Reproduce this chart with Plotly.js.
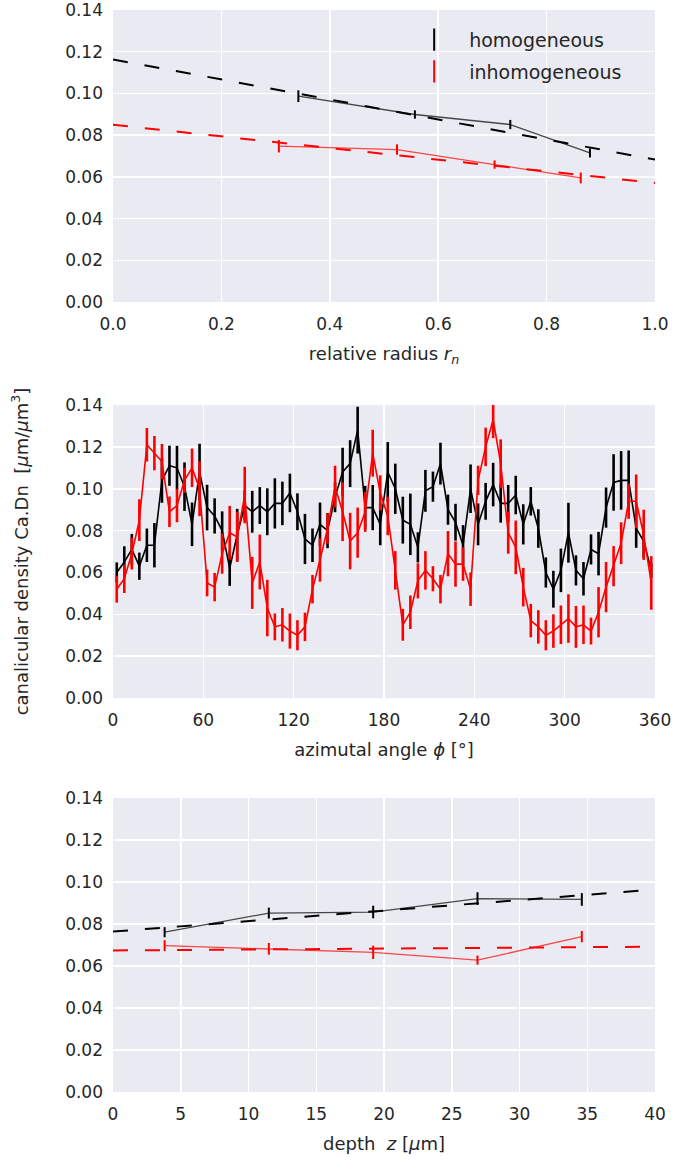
<!DOCTYPE html>
<html>
<head>
<meta charset="utf-8">
<script src="https://cdn.plot.ly/plotly-3.0.1.min.js"></script>
<style>html,body{margin:0;padding:0;background:#fff;}</style>
</head>
<body>
<div id="chart" style="width:673px;height:1164px;"></div>
<script>
// ---------- Panel 1: relative radius ----------
const rnHomX = [0.342, 0.557, 0.733, 0.880];
const rnHomY = [0.0987, 0.0899, 0.0851, 0.0715];
const rnHomErr = [0.0028, 0.0020, 0.0022, 0.0022];
const rnInhX = [0.306, 0.524, 0.704, 0.863];
const rnInhY = [0.0747, 0.0731, 0.0659, 0.0595];
const rnInhErr = [0.0030, 0.0025, 0.0020, 0.0026];
const rnFitX = [0.0, 1.0];
const rnFitHom = [0.1163, 0.0683];
const rnFitInh = [0.0850, 0.0571];

// ---------- Panel 2: azimutal angle ----------
const phi = [2.5, 7.5, 12.5, 17.5, 22.5, 27.5, 32.5, 37.5, 42.5, 47.5, 52.5, 57.5,
  62.5, 67.5, 72.5, 77.5, 82.5, 87.5, 92.5, 97.5, 102.5, 107.5, 112.5, 117.5,
  122.5, 127.5, 132.5, 137.5, 142.5, 147.5, 152.5, 157.5, 162.5, 167.5, 172.5, 177.5,
  182.5, 187.5, 192.5, 197.5, 202.5, 207.5, 212.5, 217.5, 222.5, 227.5, 232.5, 237.5,
  242.5, 247.5, 252.5, 257.5, 262.5, 267.5, 272.5, 277.5, 282.5, 287.5, 292.5, 297.5,
  302.5, 307.5, 312.5, 317.5, 322.5, 327.5, 332.5, 337.5, 342.5, 347.5, 352.5, 357.5];
const phiHom = [0.060, 0.065, 0.071, 0.063, 0.073, 0.073, 0.104, 0.111, 0.110, 0.101, 0.083, 0.108,
  0.091, 0.087, 0.080, 0.062, 0.078, 0.092, 0.089, 0.092, 0.089, 0.093, 0.093, 0.098,
  0.089, 0.076, 0.073, 0.083, 0.080, 0.096, 0.108, 0.112, 0.128, 0.091, 0.091, 0.083,
  0.108, 0.100, 0.085, 0.083, 0.072, 0.099, 0.101, 0.112, 0.090, 0.084, 0.073, 0.100,
  0.083, 0.094, 0.102, 0.093, 0.093, 0.097, 0.083, 0.094, 0.081, 0.060, 0.052, 0.061,
  0.079, 0.061, 0.057, 0.071, 0.069, 0.091, 0.103, 0.104, 0.104, 0.081, 0.075, 0.061];
const phiHomErr = [0.0048, 0.0075, 0.0074, 0.0065, 0.0080, 0.0106, 0.0107, 0.0096, 0.0105, 0.0116, 0.0104, 0.0135,
  0.0109, 0.0084, 0.0092, 0.0084, 0.0124, 0.0072, 0.0100, 0.0088, 0.0112, 0.0120, 0.0104, 0.0092,
  0.0088, 0.0120, 0.0080, 0.0104, 0.0084, 0.0072, 0.0116, 0.0112, 0.0112, 0.0104, 0.0108, 0.0100,
  0.0143, 0.0120, 0.0112, 0.0147, 0.0072, 0.0100, 0.0072, 0.0100, 0.0072, 0.0088, 0.0096, 0.0116,
  0.0100, 0.0088, 0.0104, 0.0092, 0.0088, 0.0092, 0.0096, 0.0068, 0.0092, 0.0072, 0.0088, 0.0104,
  0.0143, 0.0072, 0.0080, 0.0072, 0.0104, 0.0096, 0.0135, 0.0140, 0.0143, 0.0092, 0.0080, 0.0035];
const phiInh = [0.052, 0.057, 0.069, 0.085, 0.121, 0.117, 0.113, 0.089, 0.092, 0.104, 0.110, 0.100,
  0.055, 0.053, 0.069, 0.079, 0.077, 0.097, 0.055, 0.065, 0.043, 0.034, 0.035, 0.032,
  0.030, 0.034, 0.052, 0.066, 0.081, 0.101, 0.089, 0.075, 0.079, 0.089, 0.117, 0.098,
  0.087, 0.061, 0.035, 0.041, 0.056, 0.061, 0.057, 0.052, 0.069, 0.064, 0.064, 0.052,
  0.104, 0.120, 0.133, 0.112, 0.079, 0.072, 0.053, 0.037, 0.034, 0.030, 0.032, 0.035,
  0.038, 0.034, 0.035, 0.032, 0.041, 0.053, 0.063, 0.074, 0.094, 0.094, 0.078, 0.055];
const phiInhErr = [0.0064, 0.0068, 0.0076, 0.0100, 0.0080, 0.0082, 0.0084, 0.0073, 0.0080, 0.0060, 0.0092, 0.0131,
  0.0064, 0.0068, 0.0096, 0.0128, 0.0120, 0.0135, 0.0124, 0.0131, 0.0135, 0.0064, 0.0080, 0.0084,
  0.0072, 0.0068, 0.0068, 0.0104, 0.0072, 0.0100, 0.0140, 0.0135, 0.0120, 0.0096, 0.0112, 0.0084,
  0.0092, 0.0092, 0.0076, 0.0080, 0.0084, 0.0092, 0.0060, 0.0068, 0.0108, 0.0108, 0.0080, 0.0080,
  0.0070, 0.0092, 0.0088, 0.0116, 0.0100, 0.0128, 0.0092, 0.0080, 0.0080, 0.0072, 0.0080, 0.0092,
  0.0116, 0.0100, 0.0092, 0.0064, 0.0120, 0.0120, 0.0096, 0.0100, 0.0084, 0.0128, 0.0120, 0.0128];

// ---------- Panel 3: depth ----------
const zX = [3.81, 11.5, 19.2, 26.9, 34.6];
const zHom = [0.0761, 0.0852, 0.0857, 0.0921, 0.0917];
const zHomErr = [0.0024, 0.0026, 0.0030, 0.0030, 0.0030];
const zInh = [0.0697, 0.0682, 0.0665, 0.0628, 0.0740];
const zInhErr = [0.0026, 0.0028, 0.0032, 0.0022, 0.0027];
const zFitX = [0, 40];
const zFitHom = [0.0764, 0.0964];
const zFitInh = [0.0674, 0.0692];

const yTicks = [0, 0.02, 0.04, 0.06, 0.08, 0.10, 0.12, 0.14];
const rnTicks = [0, 0.2, 0.4, 0.6, 0.8, 1.0];
const phiTicks = [0, 60, 120, 180, 240, 300, 360];
const zTicks = [0, 5, 10, 15, 20, 25, 30, 35, 40];
const legendNames = ['homogeneous', 'inhomogeneous'];

const BLK = '#000000', RED = '#ff0000';
const DASH = '15px,17px';

function dataTrace(x, y, err, color, lineColor, xa, ya, lw, et) {
  return {x: x, y: y, type: 'scatter', mode: 'lines', xaxis: xa, yaxis: ya,
    line: {color: lineColor, width: lw}, showlegend: false, hoverinfo: 'skip',
    error_y: {type: 'data', array: err, visible: true, width: 0, thickness: et, color: color}};
}
function fitTrace(x, y, color, xa, ya) {
  return {x: x, y: y, type: 'scatter', mode: 'lines', xaxis: xa, yaxis: ya,
    line: {color: color, width: 2, dash: DASH}, showlegend: false, hoverinfo: 'skip'};
}

const traces = [
  fitTrace(rnFitX, rnFitHom, BLK, 'x', 'y'),
  fitTrace(rnFitX, rnFitInh, RED, 'x', 'y'),
  dataTrace(rnHomX, rnHomY, rnHomErr, BLK, 'rgba(0,0,0,0.7)', 'x', 'y', 1.3, 2),
  dataTrace(rnInhX, rnInhY, rnInhErr, RED, 'rgba(255,0,0,0.7)', 'x', 'y', 1.3, 2),
  dataTrace(phi, phiHom, phiHomErr, BLK, BLK, 'x2', 'y2', 1.6, 2.6),
  dataTrace(phi, phiInh, phiInhErr, RED, RED, 'x2', 'y2', 1.6, 2.6),
  fitTrace(zFitX, zFitHom, BLK, 'x3', 'y3'),
  fitTrace(zFitX, zFitInh, RED, 'x3', 'y3'),
  dataTrace(zX, zHom, zHomErr, BLK, 'rgba(0,0,0,0.7)', 'x3', 'y3', 1.3, 2),
  dataTrace(zX, zInh, zInhErr, RED, 'rgba(255,0,0,0.7)', 'x3', 'y3', 1.3, 2),
  {x: [null], y: [null], type: 'scatter', mode: 'markers', name: legendNames[0], xaxis: 'x', yaxis: 'y',
    legendgroup: 'a',
    marker: {symbol: 'line-ns-open', size: 24, color: BLK, line: {color: BLK, width: 2}}},
  {x: [null], y: [null], type: 'scatter', mode: 'markers', name: legendNames[1], xaxis: 'x', yaxis: 'y',
    legendgroup: 'b',
    marker: {symbol: 'line-ns-open', size: 24, color: RED, line: {color: RED, width: 2}}}
];

const FONT = 'DejaVu Sans, sans-serif';
const TXT = '#262626';
function xax(range, ticks, fmt, title, anchor) {
  return {range: range, tickvals: ticks, tickformat: fmt, anchor: anchor,
    showgrid: true, gridcolor: '#ffffff', gridwidth: 1.5, zeroline: false, showline: false,
    ticks: '', ticklabelstandoff: 10, ticklabeloverflow: 'allow',
    tickfont: {family: FONT, size: 17, color: TXT}, automargin: false,
    title: {text: title, font: {family: FONT, size: 18, color: TXT}, standoff: 14}};
}
function yax(domain, anchor) {
  return {range: [0, 0.14], tickvals: yTicks, tickformat: '.2f', domain: domain, anchor: anchor,
    showgrid: true, gridcolor: '#ffffff', gridwidth: 1.5, zeroline: false, showline: false,
    ticks: '', ticklabelstandoff: 9, ticklabeloverflow: 'allow',
    tickfont: {family: FONT, size: 17, color: TXT}, automargin: false};
}

const layout = {
  width: 673, height: 1164,
  margin: {l: 113, r: 18, t: 10, b: 72},
  paper_bgcolor: '#ffffff', plot_bgcolor: '#EAEAF2',
  font: {family: FONT, color: TXT},
  xaxis: xax([0, 1], rnTicks, '.1f', 'relative radius <i>r<sub>n</sub></i>', 'y'),
  yaxis: yax([0.7301, 1.0], 'x'),
  xaxis2: xax([0, 360], phiTicks, 'd', 'azimutal angle <i>ϕ</i> [°]', 'y2'),
  yaxis2: yax([0.3641, 0.6349], 'x2'),
  xaxis3: xax([0, 40], zTicks, 'd', 'depth  <i>z</i> [<i>μ</i>m]', 'y3'),
  yaxis3: yax([0, 0.2717], 'x3'),
  showlegend: true,
  legend: {x: 0.528, y: 0.990, xanchor: 'left', yanchor: 'top', bgcolor: 'rgba(0,0,0,0)',
    font: {family: FONT, size: 19, color: TXT}, itemwidth: 60,
    traceorder: 'grouped', tracegroupgap: 4},
  annotations: [{
    xref: 'paper', yref: 'paper', x: -0.172, y: 0.4995, xanchor: 'center', yanchor: 'middle',
    textangle: -90, showarrow: false,
    text: 'canalicular density Ca.Dn  [<i>μ</i>m/<i>μ</i>m<sup>3</sup>]',
    font: {family: FONT, size: 18, color: TXT}
  }]
};

Plotly.newPlot('chart', traces, layout, {staticPlot: true, displayModeBar: false});
</script>
</body>
</html>
